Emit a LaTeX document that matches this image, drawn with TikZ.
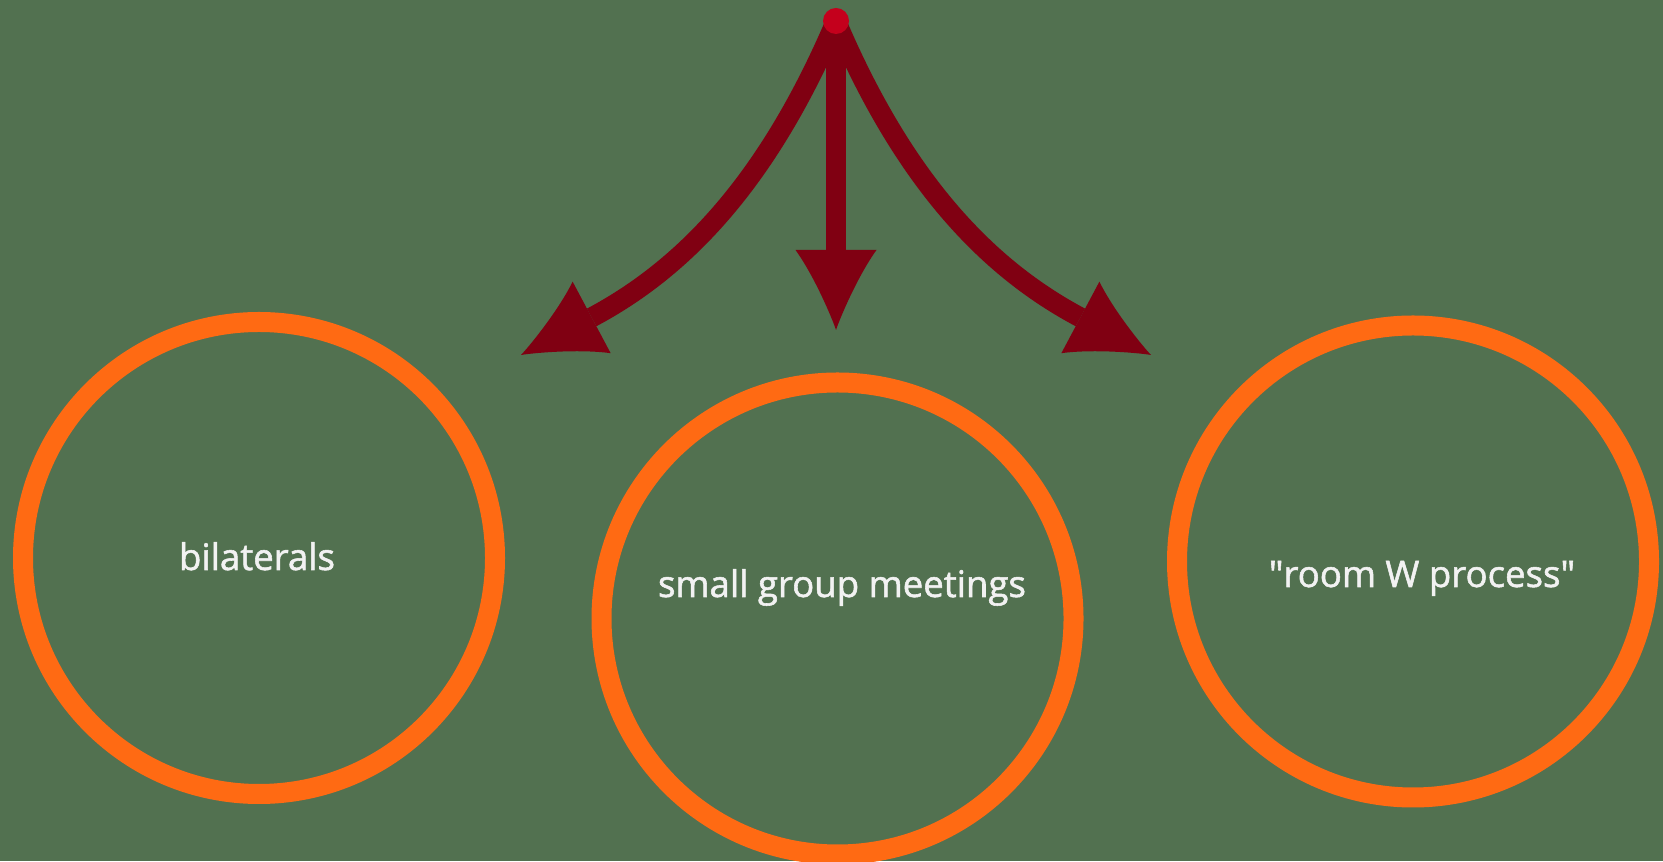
\documentclass[tikz,border=0pt]{standalone}
\usepackage{fontspec}
\setmainfont{Open Sans}
\usetikzlibrary{arrows.meta}

\definecolor{bg}{RGB}{82,113,80}
\definecolor{ring}{RGB}{255,106,19}
\definecolor{wine}{RGB}{128,0,18}
\definecolor{knob}{RGB}{196,0,28}
\definecolor{txt}{RGB}{242,242,242}

\begin{document}
\begin{tikzpicture}[x=0.5pt, y=0.5pt,
        topic/.style={circle, draw=ring, line width=10pt, minimum size=236pt, inner sep=0pt},
        lbl/.style={anchor=base, text=txt, font=\fontsize{18.3}{22}\selectfont\addfontfeature{FakeBold=1.5}},
        branch/.style={draw=wine, line width=10pt, -{Latex[length=40pt, width=40.5pt, line width=0pt]}}]
            \fill[bg] (0,0) rectangle (1663,861);
            \useasboundingbox (0,0) rectangle (1663,861);

            \node[topic] (B) at (259,303) {};
            \node[topic] (S) at (837.5,242.5) {};
            \node[topic] (R) at (1413,299.5) {};

            \node[lbl] (b) at (257,291) {bilaterals};
            \node[lbl] (s) at (842,264) {small group meetings};
            \node[lbl] (r) at (1422,274) {\textquotedbl room W process\textquotedbl};

            \coordinate (O) at (836,840);
            \coordinate (L) at (521,506);
            \coordinate (M) at (836,531);
            \coordinate (N) at (1151,506);

            \draw[branch] (O) to[out=-113, in=28] (L);
            \draw[branch] (O) -- (M);
            \draw[branch] (O) to[out=-67, in=152] (N);
            \node[circle, fill=knob, minimum size=13pt, inner sep=0pt] (dot) at (O) {};
        \end{tikzpicture}
\end{document}
